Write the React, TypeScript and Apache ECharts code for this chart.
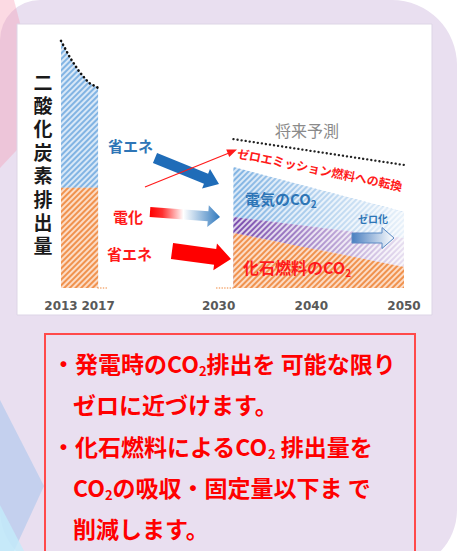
import React, { useEffect, useRef } from 'react';
import * as echarts from 'echarts';

// ---- data ----
const tickYears = [2013, 2017, 2030, 2040, 2050];
const pastYears = [2013, 2014, 2015, 2016, 2017];
const pastFossil = [38, 38, 38, 38, 38];
const pastElectric = [55.6, 49.1, 43.8, 39.7, 37.8];
const futureYears = [2031.6, 2050];
const futureFossil = [20.8, 8.0];
const futureFossilPower = [6.1, 10.9];
const futureElectric = [18.9, 9.9];
const forecastYears = [2031.6, 2050];
const forecast = [56.4, 46.6];
const baselineA = [2017, 2018.1];
const baselineB = [2029.8, 2031.6];

const yTitle = '二酸化炭素排出量';
const bulletLines = [
  '・発電時のCO{s|2}排出を 可能な限り',
  'ゼロに近づけます。',
  '・化石燃料によるCO{s|2} 排出量を',
  'CO{s|2}の吸収・固定量以下ま で',
  '削減します。',
];

const CJK = '"Noto Sans CJK JP", "Noto Sans", sans-serif';
const RED = '#ff1a1a';
const BLUE = '#2e75b6';

function arrowPts(x1: number, y1: number, x2: number, y2: number, bw: number, hw: number, hl: number) {
  const dx = x2 - x1, dy = y2 - y1, L = Math.hypot(dx, dy);
  const ux = dx / L, uy = dy / L, nx = -uy, ny = ux;
  const bx = x2 - ux * hl, by = y2 - uy * hl;
  return [
    [x1 + nx * bw / 2, y1 + ny * bw / 2],
    [bx + nx * bw / 2, by + ny * bw / 2],
    [bx + nx * hw / 2, by + ny * hw / 2],
    [x2, y2],
    [bx - nx * hw / 2, by - ny * hw / 2],
    [bx - nx * bw / 2, by - ny * bw / 2],
    [x1 - nx * bw / 2, y1 - ny * bw / 2],
  ];
}

const stripe = (color: string) => ({
  symbol: 'rect',
  symbolSize: 1,
  color,
  dashArrayX: [1, 0],
  dashArrayY: [2, 2],
  rotation: -Math.PI / 4,
});

function buildOption() {
  const pastTotal = pastYears.map((y, i) => [y, pastFossil[i] + pastElectric[i]]);
  const pastLow = pastYears.map((y, i) => [y, pastFossil[i]]);
  const futLow = futureYears.map((y, i) => [y, futureFossil[i]]);
  const futMid = futureYears.map((y, i) => [y, futureFossil[i] + futureFossilPower[i]]);
  const futTop = futureYears.map((y, i) => [y, futureFossil[i] + futureFossilPower[i] + futureElectric[i]]);
  const fc = forecastYears.map((y, i) => [y, forecast[i]]);

  const noLine = { width: 0 };
  const base = { type: 'line', showSymbol: false, silent: true, z: 10 };

  const sub = { fontSize: 13, lineHeight: 14, verticalAlign: 'bottom', fontWeight: 'bold', fontFamily: CJK };

  const graphic: any[] = [
    // background decoration
    { type: 'rect', z: 0, shape: { x: 0, y: 0, width: 457, height: 570, r: [40, 65, 60, 60] }, style: { fill: '#e9dff0' } },
    { type: 'polygon', z: 1, shape: { points: [[0, 0], [14, 0], [45, 120], [0, 168]] }, style: { fill: 'rgba(245,150,175,0.35)' } },
    { type: 'polygon', z: 1, shape: { points: [[0, 400], [44, 486], [14, 551], [0, 551]] }, style: { fill: 'rgba(150,190,235,0.45)' } },
    { type: 'polygon', z: 1, shape: { points: [[0, 505], [24, 551], [0, 551]] }, style: { fill: 'rgba(195,235,250,0.8)' } },
    { type: 'rect', z: 2, shape: { x: 17, y: 24, width: 415, height: 291 }, style: { fill: '#ffffff', stroke: '#ddd5e6', lineWidth: 1 } },
    { type: 'rect', z: 2, shape: { x: 45, y: 334, width: 370, height: 240 }, style: { fill: 'none', stroke: '#ff4a4a', lineWidth: 2 } },

    // chart annotations
    { type: 'text', z: 20, x: 108, y: 145, style: { text: '省エネ', fontSize: 15, fontWeight: 'bold', fill: BLUE, verticalAlign: 'middle', fontFamily: CJK } },
    { type: 'text', z: 20, x: 113, y: 216, style: { text: '電化', fontSize: 15, fontWeight: 'bold', fill: RED, verticalAlign: 'middle', fontFamily: CJK } },
    { type: 'text', z: 20, x: 107, y: 253, style: { text: '省エネ', fontSize: 15, fontWeight: 'bold', fill: RED, verticalAlign: 'middle', fontFamily: CJK } },
    { type: 'text', z: 20, x: 275, y: 130, style: { text: '将来予測', fontSize: 16, fill: '#8a8a8a', verticalAlign: 'middle', fontFamily: CJK } },
    { type: 'text', z: 20, x: 320, y: 169, rotation: -0.2, style: { text: 'ゼロエミッション燃料への転換', fontSize: 12, fontWeight: 'bold', fill: RED, align: 'center', verticalAlign: 'middle', fontFamily: CJK } },
    { type: 'text', z: 20, x: 245, y: 198, style: { text: '電気のCO{s|2}', fontSize: 15, lineHeight: 20, fontWeight: 'bold', fill: BLUE, verticalAlign: 'middle', fontFamily: CJK, rich: { s: { ...sub, fontSize: 10, lineHeight: 10, fill: BLUE } } } },
    { type: 'text', z: 20, x: 373, y: 218, style: { text: 'ゼロ化', fontSize: 10, fontWeight: 'bold', fill: BLUE, align: 'center', verticalAlign: 'middle', fontFamily: CJK } },
    { type: 'text', z: 20, x: 243, y: 267, style: { text: '化石燃料のCO{s|2}', fontSize: 16, lineHeight: 21, fontWeight: 'bold', fill: RED, verticalAlign: 'middle', fontFamily: CJK, rich: { s: { ...sub, fontSize: 10, lineHeight: 10, fill: RED } } } },

    // arrows
    { type: 'polygon', z: 15, shape: { points: arrowPts(155, 158, 219, 184, 11, 21, 14) }, style: { fill: '#1f6cb8' } },
    {
      type: 'polygon', z: 15, shape: { points: arrowPts(150, 212, 220, 217, 10, 22, 12) },
      style: {
        fill: new echarts.graphic.LinearGradient(0, 0, 1, 0, [
          { offset: 0, color: '#ff0000' },
          { offset: 0.18, color: '#ff3030' },
          { offset: 0.48, color: '#ffffff' },
          { offset: 1, color: '#2f78bd' },
        ]),
      },
    },
    { type: 'polygon', z: 15, shape: { points: arrowPts(172, 251, 231, 259, 16, 27, 16) }, style: { fill: '#ff0000' } },
    { type: 'line', z: 15, shape: { x1: 145, y1: 187, x2: 229, y2: 153 }, style: { stroke: RED, lineWidth: 1.2 } },
    { type: 'polygon', z: 15, shape: { points: arrowPts(226, 154, 237, 149.5, 0, 8, 10) }, style: { fill: RED } },
    {
      type: 'polygon', z: 15, shape: { points: arrowPts(352, 238, 394, 238, 10, 21, 12) },
      style: {
        fill: new echarts.graphic.LinearGradient(0, 0, 1, 0, [
          { offset: 0, color: '#4a7fc0' },
          { offset: 1, color: '#ffffff' },
        ]),
        stroke: '#5a8ac4', lineWidth: 1,
      },
    },
  ];

  // vertical axis title, one character per text
  yTitle.split('').forEach((ch, i) => {
    graphic.push({
      type: 'text', z: 20, x: 43, y: 81 + i * 23.4,
      style: { text: ch, fontSize: 19, fontWeight: 'bold', fill: '#1a1a1a', align: 'center', verticalAlign: 'middle', fontFamily: CJK },
    });
  });

  bulletLines.forEach((t, i) => {
    graphic.push({
      type: 'text', z: 20,
      x: t.startsWith('・') ? 52 : 73,
      y: 363 + i * 41.3,
      style: {
        text: t, fontSize: 23, lineHeight: 28, fontWeight: 'bold', fill: '#ff0000',
        verticalAlign: 'middle', fontFamily: CJK,
        rich: { s: { ...sub, fill: '#ff0000' } },
      },
    });
  });

  return {
    animation: false,
    backgroundColor: '#ffffff',
    grid: { left: 61, right: 58, top: 24, bottom: 263 },
    xAxis: {
      type: 'value', min: 2013, max: 2050, z: 12,
      axisLine: { show: false }, axisTick: { show: false }, splitLine: { show: false },
      axisLabel: {
        customValues: tickYears,
        hideOverlap: false,
        showMinLabel: true,
        showMaxLabel: true,
        margin: 12, fontSize: 12, fontWeight: 'bold', color: '#595959', fontFamily: 'DejaVu Sans',
        formatter: (v: number) => String(v),
      },
    },
    yAxis: { type: 'value', min: 0, max: 100, show: false },
    graphic,
    series: [
      { ...base, data: pastTotal, areaStyle: { color: '#d9e8f7', opacity: 1 }, itemStyle: { color: '#5b9bd5', decal: stripe('#82b4e3') }, lineStyle: { color: '#111', width: 2.6, type: [0.1, 4.2], cap: 'round' } },
      { ...base, data: pastLow, areaStyle: { color: '#fcdcc6', opacity: 1 }, itemStyle: { color: '#ed7d31', decal: stripe('#f0924e') }, lineStyle: noLine },
      { ...base, data: futTop, areaStyle: { color: '#d9e8f7', opacity: 1 }, itemStyle: { color: '#5b9bd5', decal: stripe('#82b4e3') }, lineStyle: noLine },
      { ...base, data: futMid, areaStyle: { color: '#ddd2ea', opacity: 1 }, itemStyle: { color: '#7030a0', decal: stripe('#7a4cae') }, lineStyle: noLine },
      {
        ...base, data: futTop, lineStyle: noLine, itemStyle: { color: '#fff' },
        areaStyle: {
          opacity: 1,
          color: new echarts.graphic.LinearGradient(0, 0, 1, 0, [
            { offset: 0, color: 'rgba(255,255,255,0)' },
            { offset: 1, color: 'rgba(255,255,255,0.82)' },
          ]),
        },
      },
      { ...base, data: futLow, areaStyle: { color: '#fcdcc6', opacity: 1 }, itemStyle: { color: '#ed7d31', decal: stripe('#f0924e') }, lineStyle: noLine },
      { ...base, data: fc, lineStyle: { color: '#222', width: 2.3, type: [0.1, 4], cap: 'round' } },
      { ...base, clip: false, data: baselineA.map((x) => [x, 0]), lineStyle: { color: '#f4a46a', width: 1.6, type: [0.1, 2.6], cap: 'round' } },
      { ...base, clip: false, data: baselineB.map((x) => [x, 0]), lineStyle: { color: '#f4a46a', width: 1.6, type: [0.1, 2.6], cap: 'round' } },
    ],
  };
}

export default function App() {
  const ref = useRef<HTMLDivElement>(null);
  useEffect(() => {
    const chart = echarts.init(ref.current as HTMLDivElement, null, { renderer: 'svg' });
    chart.setOption(buildOption() as any);
    return () => chart.dispose();
  }, []);
  return <div ref={ref} style={{ position: 'fixed', left: 0, top: 0, width: 462, height: 551 }} />;
}
